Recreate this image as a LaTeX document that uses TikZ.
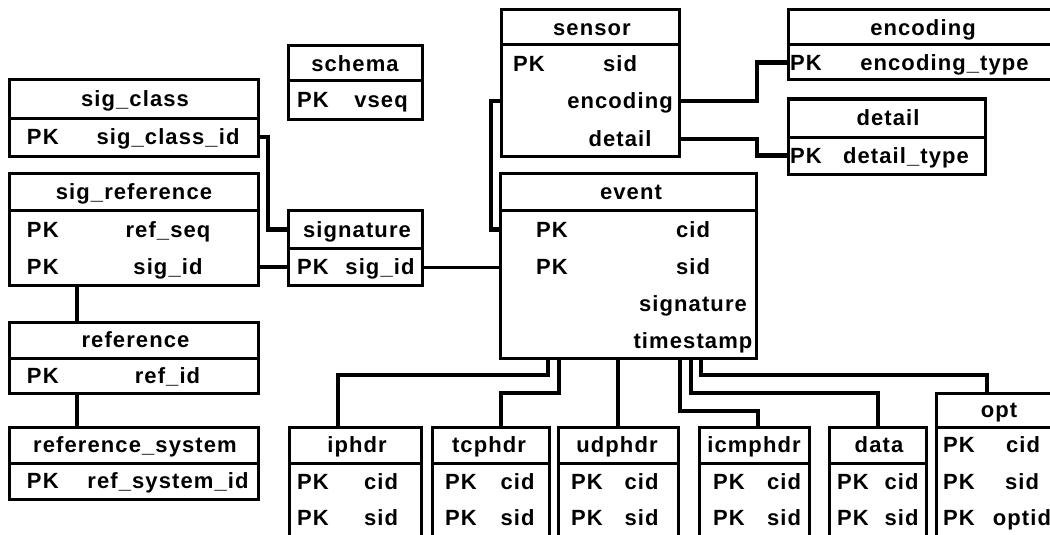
\documentclass[tikz,border=0pt]{standalone}
\usepackage{fontspec}
\setmainfont{Liberation Sans}[LetterSpace=5]
\begin{document}
\begin{tikzpicture}[x=1pt,y=-1pt,
  tbl/.style={draw, rectangle, line width=3pt, inner sep=0pt, outer sep=0pt, anchor=north west},
  hline/.style={line width=3pt},
  conn/.style={line width=4.3pt},
  thinconn/.style={line width=3pt},
  txt/.style={inner sep=0pt, outer sep=0pt, text height=15.5pt, text depth=0pt, font=\bfseries\fontsize{22}{25}\selectfont, anchor=center},
  pk/.style={txt, anchor=west}
]
\useasboundingbox (0,0) rectangle (1050,535);
\clip (0,0) rectangle (1050,535);

% ---------- tables ----------
\node[tbl, minimum width=134pt, minimum height=73pt] (schema) at (288,46) {};
\draw[hline] ([yshift=-35pt]schema.north west) -- ([yshift=-35pt]schema.north east);
\node[txt] (schemaH) at (355,63.5) {schema};
\node[pk] (schemaPK) at (297,100) {PK};
\node[txt] (schemaF) at (381,100) {vseq};

\node[tbl, minimum width=249pt, minimum height=76pt] (sigclass) at (9,80) {};
\draw[hline] ([yshift=-38pt]sigclass.north west) -- ([yshift=-38pt]sigclass.north east);
\node[txt] (sigclassH) at (135,99) {sig\_class};
\node[pk] (sigclassPK) at (27,137) {PK};
\node[txt] (sigclassF) at (168,137) {sig\_class\_id};

\node[tbl, minimum width=249pt, minimum height=112pt] (sigref) at (9,173) {};
\draw[hline] ([yshift=-37pt]sigref.north west) -- ([yshift=-37pt]sigref.north east);
\node[txt] (sigrefH) at (134,191.5) {sig\_reference};
\node[pk] (sigrefPK1) at (27,230) {PK};
\node[txt] (sigrefF1) at (168,230) {ref\_seq};
\node[pk] (sigrefPK2) at (27,267) {PK};
\node[txt] (sigrefF2) at (168,267) {sig\_id};

\node[tbl, minimum width=249pt, minimum height=71pt] (reference) at (9,322) {};
\draw[hline] ([yshift=-36pt]reference.north west) -- ([yshift=-36pt]reference.north east);
\node[txt] (referenceH) at (135.5,340) {reference};
\node[pk] (referencePK) at (27,375.5) {PK};
\node[txt] (referenceF) at (167.5,375.5) {ref\_id};

\node[tbl, minimum width=249pt, minimum height=72pt] (refsys) at (9,427) {};
\draw[hline] ([yshift=-36pt]refsys.north west) -- ([yshift=-36pt]refsys.north east);
\node[txt] (refsysH) at (135,445) {reference\_system};
\node[pk] (refsysPK) at (27,481) {PK};
\node[txt] (refsysF) at (168,481) {ref\_system\_id};

\node[tbl, minimum width=134pt, minimum height=75pt] (signature) at (288,210) {};
\draw[hline] ([yshift=-38pt]signature.north west) -- ([yshift=-38pt]signature.north east);
\node[txt] (signatureH) at (357,229.5) {signature};
\node[pk] (signaturePK) at (297,267) {PK};
\node[txt] (signatureF) at (380,267) {sig\_id};

\node[tbl, minimum width=178pt, minimum height=146pt] (sensor) at (501,10) {};
\draw[hline] ([yshift=-35pt]sensor.north west) -- ([yshift=-35pt]sensor.north east);
\node[txt] (sensorH) at (592,27.5) {sensor};
\node[pk] (sensorPK) at (513,64) {PK};
\node[txt] (sensorF1) at (620,64) {sid};
\node[txt] (sensorF2) at (620,101) {encoding};
\node[txt] (sensorF3) at (620,139) {detail};

\node[tbl, minimum width=275pt, minimum height=70pt] (encoding) at (788,10) {};
\draw[hline] ([yshift=-35pt]encoding.north west) -- ([yshift=-35pt]encoding.north east);
\node[txt] (encodingH) at (923,27.5) {encoding};
\node[pk] (encodingPK) at (790,62.5) {PK};
\node[txt] (encodingF) at (944.5,62.5) {encoding\_type};

\node[tbl, minimum width=197pt, minimum height=75pt] (detail) at (788,99) {};
\draw[hline] ([yshift=-38pt]detail.north west) -- ([yshift=-38pt]detail.north east);
\node[txt] (detailH) at (888,118) {detail};
\node[pk] (detailPK) at (790,155.5) {PK};
\node[txt] (detailF) at (906,155.5) {detail\_type};

\node[tbl, minimum width=256pt, minimum height=185pt] (event) at (500,173) {};
\draw[hline] ([yshift=-37pt]event.north west) -- ([yshift=-37pt]event.north east);
\node[txt] (eventH) at (631,191.5) {event};
\node[pk] (eventPK1) at (536,229.5) {PK};
\node[txt] (eventF1) at (693,229.5) {cid};
\node[pk] (eventPK2) at (536,267) {PK};
\node[txt] (eventF2) at (693,267) {sid};
\node[txt] (eventF3) at (693,304) {signature};
\node[txt] (eventF4) at (693,341) {timestamp};

% bottom row
\node[tbl, minimum width=132pt, minimum height=120pt] (iphdr) at (289,427) {};
\draw[hline] ([yshift=-36pt]iphdr.north west) -- ([yshift=-36pt]iphdr.north east);
\node[txt] (iphdrH) at (357,445) {iphdr};
\node[pk] (iphdrPK1) at (297,482) {PK};
\node[txt] (iphdrF1) at (381,482) {cid};
\node[pk] (iphdrPK2) at (297,518) {PK};
\node[txt] (iphdrF2) at (381,518) {sid};

\node[tbl, minimum width=117pt, minimum height=120pt] (tcphdr) at (432,427) {};
\draw[hline] ([yshift=-36pt]tcphdr.north west) -- ([yshift=-36pt]tcphdr.north east);
\node[txt] (tcphdrH) at (489,445) {tcphdr};
\node[pk] (tcphdrPK1) at (445,482) {PK};
\node[txt] (tcphdrF1) at (517.5,482) {cid};
\node[pk] (tcphdrPK2) at (445,518) {PK};
\node[txt] (tcphdrF2) at (517.5,518) {sid};

\node[tbl, minimum width=120pt, minimum height=120pt] (udphdr) at (558,427) {};
\draw[hline] ([yshift=-36pt]udphdr.north west) -- ([yshift=-36pt]udphdr.north east);
\node[txt] (udphdrH) at (617,445) {udphdr};
\node[pk] (udphdrPK1) at (571,482) {PK};
\node[txt] (udphdrF1) at (641.5,482) {cid};
\node[pk] (udphdrPK2) at (571,518) {PK};
\node[txt] (udphdrF2) at (641.5,518) {sid};

\node[tbl, minimum width=110pt, minimum height=120pt] (icmphdr) at (699,427) {};
\draw[hline] ([yshift=-36pt]icmphdr.north west) -- ([yshift=-36pt]icmphdr.north east);
\node[txt] (icmphdrH) at (754,445) {icmphdr};
\node[pk] (icmphdrPK1) at (713,482) {PK};
\node[txt] (icmphdrF1) at (784,482) {cid};
\node[pk] (icmphdrPK2) at (713,518) {PK};
\node[txt] (icmphdrF2) at (784,518) {sid};

\node[tbl, minimum width=97pt, minimum height=120pt] (data) at (829,427) {};
\draw[hline] ([yshift=-36pt]data.north west) -- ([yshift=-36pt]data.north east);
\node[txt] (dataH) at (879,445) {data};
\node[pk] (dataPK1) at (837,482) {PK};
\node[txt] (dataF1) at (901.5,482) {cid};
\node[pk] (dataPK2) at (837,518) {PK};
\node[txt] (dataF2) at (901.5,518) {sid};

\node[tbl, minimum width=130pt, minimum height=154pt] (opt) at (936,393) {};
\draw[hline] ([yshift=-34pt]opt.north west) -- ([yshift=-34pt]opt.north east);
\node[txt] (optH) at (999,410) {opt};
\node[pk] (optPK1) at (943,445) {PK};
\node[txt] (optF1) at (1023,445) {cid};
\node[pk] (optPK2) at (943,482) {PK};
\node[txt] (optF2) at (1022,482) {sid};
\node[pk] (optPK3) at (943,518) {PK};
\node[txt] (optF3) at (1022,518) {optid};

% ---------- helper x positions ----------
\coordinate (refx) at (77,0);
\coordinate (jx) at (757,0);
\coordinate (b1) at (548,0);
\coordinate (t1) at (338,0);
\coordinate (b2) at (559,0);
\coordinate (t2) at (501,0);
\coordinate (b4) at (680,0);
\coordinate (t4) at (758,0);
\coordinate (b5) at (691,0);
\coordinate (t5) at (878,0);
\coordinate (b6) at (701,0);
\coordinate (t6) at (987,0);

% ---------- connectors ----------
\draw[conn] (sigclass.east |- sigclassF) -- ++(10,0) |- (signature.west |- signatureH);
\draw[conn] (sigref.east |- sigrefF2) -- (signature.west |- signatureF);
\draw[thinconn] (signature.east |- signatureF) -- (event.west |- signatureF);
\draw[conn] (sigref.south -| refx) -- (reference.north -| refx);
\draw[conn] (reference.south -| refx) -- (refsys.north -| refx);

\draw[conn] (sensor.west |- sensorF2) -- ++(-10,0) |- (event.west |- eventF1);
\draw[conn] (sensor.east |- sensorF2) -| (jx |- encodingF) -- (encoding.west |- encodingF);
\draw[conn] (sensor.east |- sensorF3) -| (jx |- detailF) -- (detail.west |- detailF);

\draw[conn] (event.south -| b1) -- ++(0,17) -| (iphdr.north -| t1);
\draw[conn] (event.south -| b2) -- ++(0,35) -| (tcphdr.north -| t2);
\draw[conn] (event.south -| udphdr.north) -- (udphdr.north);
\draw[conn] (event.south -| b4) -- ++(0,53) -| (icmphdr.north -| t4);
\draw[conn] (event.south -| b5) -- ++(0,35) -| (data.north -| t5);
\draw[conn] (event.south -| b6) -- ++(0,17) -| (opt.north -| t6);
\end{tikzpicture}
\end{document}
